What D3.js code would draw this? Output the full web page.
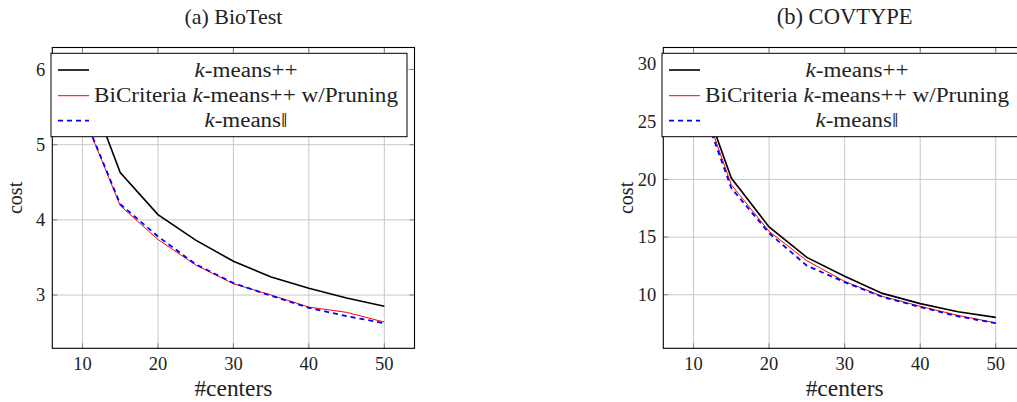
<!DOCTYPE html>
<html>
<head>
<meta charset="utf-8">
<script src="https://cdn.jsdelivr.net/npm/d3@7"></script>
<style>
  body { margin: 0; background: #fff; }
</style>
</head>
<body>
<svg id="chart" width="1017" height="402"></svg>
<script>
// x values shared by both panels
const centers = [10, 15, 20, 25, 30, 35, 40, 45, 50];
const xTicks = [10, 20, 30, 40, 50];

// (a) BioTest
const bioKmeansPP = [5.96, 4.63, 4.07, 3.73, 3.45, 3.24, 3.09, 2.96, 2.85];
const bioBiCriteria = [5.42, 4.19, 3.74, 3.40, 3.15, 3.00, 2.84, 2.77, 2.64];
const bioKmeansPar = [5.43, 4.21, 3.78, 3.41, 3.16, 2.99, 2.83, 2.72, 2.625];
const bioTicks = [3, 4, 5, 6];

// (b) COVTYPE
const covKmeansPP = [29.27, 20.12, 15.88, 13.24, 11.6, 10.12, 9.23, 8.53, 8.04];
const covBiCriteria = [28.8, 19.54, 15.5, 12.95, 11.16, 9.86, 9.0, 8.21, 7.56];
const covKmeansPar = [28.4, 19.25, 15.35, 12.52, 11.1, 9.81, 8.94, 8.13, 7.53];
const covTicks = [10, 15, 20, 25, 30];

const seriesStyle = [
  { name: 'pp', color: '#000', width: 1.6, dash: null },
  { name: 'bi', color: '#ff0000', width: 1, dash: null },
  { name: 'par', color: '#0000ff', width: 1.8, dash: '5,4' }
];

const FONT = "'Liberation Serif', 'DejaVu Serif', serif";

const svg = d3.select('#chart').attr('font-family', FONT);

const panels = [
  { title: '(a) BioTest', left: 52.3, right: 414.5, series: [bioKmeansPP, bioBiCriteria, bioKmeansPar], ticks: bioTicks },
  { title: '(b) COVTYPE', left: 663.3, right: 1026, series: [covKmeansPP, covBiCriteria, covKmeansPar], ticks: covTicks }
];

const plotTop = 47.5, plotBottom = 348.3;

// fit a text element to a width
function fitWidth(sel, w) {
  const n = sel.node();
  const cur = n.getComputedTextLength();
  const fs = +sel.attr('font-size');
  if (cur > 0) sel.attr('font-size', fs * w / cur);
}

panels.forEach(p => {
  const g = svg.append('g');

  // pgfplots-style 10% enlargement of the data range
  const x = d3.scaleLinear().domain([6, 54]).range([p.left, p.right]);
  const all = p.series.flat();
  const lo = d3.min(all), hi = d3.max(all), pad = (hi - lo) * 0.1;
  const y = d3.scaleLinear().domain([lo - pad, hi + pad]).range([plotBottom, plotTop]);

  // grid
  g.selectAll('.gx').data(xTicks).enter().append('line')
    .attr('x1', d => x(d)).attr('x2', d => x(d)).attr('y1', plotTop).attr('y2', plotBottom)
    .attr('stroke', '#c8c8c8').attr('stroke-width', 1);
  g.selectAll('.gy').data(p.ticks).enter().append('line')
    .attr('x1', p.left).attr('x2', p.right).attr('y1', d => y(d)).attr('y2', d => y(d))
    .attr('stroke', '#c8c8c8').attr('stroke-width', 1);

  // small inward ticks on all four sides
  const tk = 5;
  xTicks.forEach(d => {
    g.append('line').attr('x1', x(d)).attr('x2', x(d)).attr('y1', plotBottom).attr('y2', plotBottom - tk).attr('stroke', '#808080');
    g.append('line').attr('x1', x(d)).attr('x2', x(d)).attr('y1', plotTop).attr('y2', plotTop + tk).attr('stroke', '#808080');
  });
  p.ticks.forEach(d => {
    g.append('line').attr('x1', p.left).attr('x2', p.left + tk).attr('y1', y(d)).attr('y2', y(d)).attr('stroke', '#808080');
    g.append('line').attr('x1', p.right).attr('x2', p.right - tk).attr('y1', y(d)).attr('y2', y(d)).attr('stroke', '#808080');
  });

  // lines
  const line = d3.line().x((d, i) => x(centers[i])).y(d => y(d));
  p.series.forEach((s, i) => {
    const st = seriesStyle[i];
    g.append('path').datum(s)
      .attr('d', line)
      .attr('fill', 'none')
      .attr('stroke', st.color)
      .attr('stroke-width', st.width)
      .attr('stroke-dasharray', st.dash);
  });

  // axis box
  g.append('rect')
    .attr('x', p.left).attr('y', plotTop)
    .attr('width', p.right - p.left).attr('height', plotBottom - plotTop)
    .attr('fill', 'none').attr('stroke', '#000').attr('stroke-width', 1.1);

  // tick labels
  g.selectAll('.xl').data(xTicks).enter().append('text')
    .attr('x', d => x(d)).attr('y', 369.5)
    .attr('text-anchor', 'middle').attr('font-size', 18.5)
    .attr('fill', '#222')
    .text(d => d);
  g.selectAll('.yl').data(p.ticks).enter().append('text')
    .attr('x', p.left - 7).attr('y', d => y(d) + 6.2)
    .attr('text-anchor', 'end').attr('font-size', 18.5)
    .attr('fill', '#222')
    .text(d => d);

  // titles
  const cx = (p.left + p.right) / 2;
  const title = g.append('text').attr('x', cx).attr('y', 23.5)
    .attr('text-anchor', 'middle').attr('font-size', 18).attr('fill', '#222')
    .text(p.title);
  fitWidth(title, p.title.startsWith('(a)') ? 98 : 136);
  const xl = g.append('text').attr('x', cx).attr('y', 396)
    .attr('text-anchor', 'middle').attr('font-size', 18).attr('fill', '#222')
    .text('#centers');
  fitWidth(xl, 78);
  g.append('text')
    .attr('transform', `translate(${p.left - 30},${(plotTop + plotBottom) / 2}) rotate(-90)`)
    .attr('text-anchor', 'middle').attr('font-size', 20).attr('fill', '#222')
    .text('cost');

  // legend
  const lx = p.left - 1.3, ly = 53.3, lw = 356, lh = 83.4;
  const leg = g.append('g');
  leg.append('rect').attr('x', lx).attr('y', ly).attr('width', lw).attr('height', lh)
    .attr('fill', '#fff').attr('stroke', '#000').attr('stroke-width', 1);

  const rowY = [70, 95.7, 120.7];
  const labels = [
    [['k', true], ['-means++', false]],
    [['BiCriteria ', false], ['k', true], ['-means++ w/Pruning', false]],
    [['k', true], ['-means\u2016', false]]
  ];
  const legWidths = [103, 304, 83];
  labels.forEach((parts, i) => {
    const st = seriesStyle[i];
    leg.append('line')
      .attr('x1', lx + 7).attr('x2', lx + 38)
      .attr('y1', rowY[i]).attr('y2', rowY[i])
      .attr('stroke', st.color).attr('stroke-width', st.width)
      .attr('stroke-dasharray', st.dash);
    const t = leg.append('text')
      .attr('x', lx + 195).attr('y', rowY[i] + 6.5)
      .attr('text-anchor', 'middle').attr('font-size', 20).attr('fill', '#222');
    parts.forEach(([s, it]) => {
      t.append('tspan').attr('font-style', it ? 'italic' : null).text(s);
    });
    t.attr('textLength', legWidths[i]).attr('lengthAdjust', 'spacingAndGlyphs');
  });
});
</script>
</body>
</html>
